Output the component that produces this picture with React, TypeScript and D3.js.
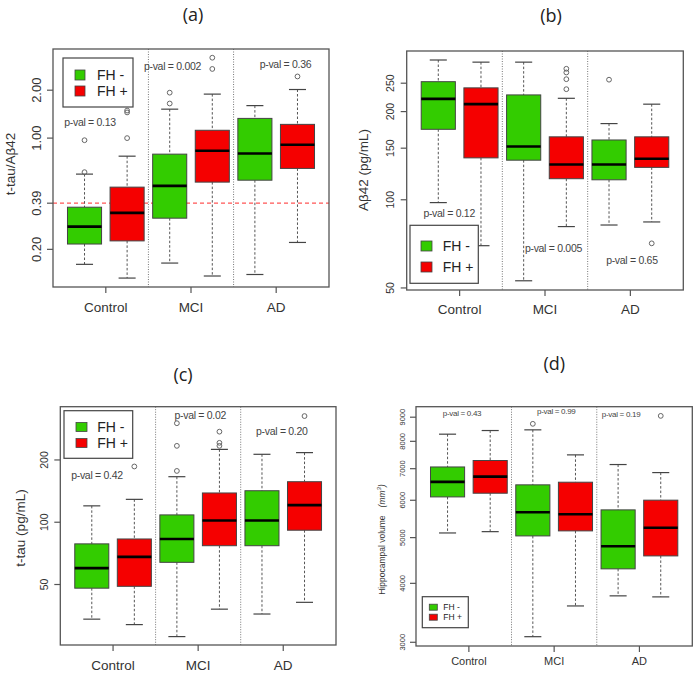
import React from "react";
import * as d3 from "d3";

const groups = ["Control", "MCI", "AD"];
const seriesNames = ["FH -", "FH +"];
const seriesColors = ["#33cc00", "#f50000"];

// [lower whisker, Q1, median, Q3, upper whisker]
// order: Control FH-, Control FH+, MCI FH-, MCI FH+, AD FH-, AD FH+
const ratioStats = [
  [0.161, 0.216, 0.278, 0.368, 0.594],
  [0.132, 0.226, 0.339, 0.492, 0.77],
  [0.164, 0.314, 0.501, 0.793, 1.52],
  [0.136, 0.529, 0.832, 1.12, 1.89],
  [0.139, 0.544, 0.801, 1.33, 1.6],
  [0.221, 0.645, 0.908, 1.22, 2.02],
];
const ratioOutliers = [[0.611, 0.97], [1.0, 1.45, 1.49], [1.65, 1.93], [2.72, 3.2], [], [2.44]];
const ratioPvals = ["p-val = 0.13", "p-val = 0.002", "p-val = 0.36"];
const ratioTicks = [0.2, 0.39, 1, 2];
const ratioTickLabels = ["0.20", "0.39", "1.00", "2.00"];
const ratioCutoff = 0.39;

const abStats = [
  [97.8, 174, 221, 253, 300],
  [69.7, 139, 212, 241, 295],
  [52.9, 136.5, 152, 228, 295],
  [81, 118, 132, 164, 222],
  [82, 117, 132, 160, 182],
  [84, 129, 138, 164, 212],
];
const abOutliers = [[], [], [], [238.5, 258, 272, 280], [257], [71]];
const abPvals = ["p-val = 0.12", "p-val = 0.005", "p-val = 0.65"];
const abTicks = [50, 100, 150, 200, 250];
const abTickLabels = ["50", "100", "150", "200", "250"];

const tauStats = [
  [34, 48, 60, 78.6, 120],
  [32, 49, 68, 83, 129],
  [28, 64, 83, 108.5, 166],
  [38, 77, 102, 138.5, 225],
  [36, 77, 102, 142, 213],
  [41, 91.5, 121, 157, 217],
];
const tauOutliers = [[], [186], [177, 234, 301], [234, 242, 274], [], [326]];
const tauPvals = ["p-val = 0.42", "p-val = 0.02", "p-val = 0.20"];
const tauTicks = [50, 100, 200];
const tauTickLabels = ["50", "100", "200"];

const hipStats = [
  [5115, 6099, 6564, 7059, 8284],
  [5148, 6210, 6734, 7285, 8433],
  [3083, 5042, 5660, 6469, 8461],
  [3582, 5167, 5604, 6553, 7488],
  [3763, 4293, 4795, 5725, 7143],
  [3744, 4573, 5245, 6003, 6868],
];
const hipOutliers = [[], [], [8713], [], [], [9058]];
const hipPvals = ["p-val = 0.43", "p-val = 0.99", "p-val = 0.19"];
const hipTicks = [3000, 4000, 5000, 6000, 7000, 8000, 9000];
const hipTickLabels = ["3000", "4000", "5000", "6000", "7000", "8000", "9000"];

const FONT = "'Liberation Sans', Arial, sans-serif";

const panels = [
  {
    label: "(a)", labelX: 193, labelY: 14,
    frame: { left: 53, right: 329, top: 49, bottom: 287 },
    domain: [0.116, 3.63],
    stats: ratioStats, outliers: ratioOutliers,
    ticks: ratioTicks, tickLabels: ratioTickLabels, tickLabelX: 36.5, tickFont: 13,
    pvals: ratioPvals, pvalPos: [[1.129, 1.26], [3.065, 2.84], [5.718, 2.92]], pvalFont: 10.5,
    refLine: ratioCutoff,
    title: "t-tau/Aβ42", titleX: 10, titleY: 164, titleFont: 13.5,
    xLabelY: 307, xLabelFont: 13.5,
    legend: { x: 63, y: 58, w: 70, h: 49, sq: 10, sqH: 10, sqX: 75, rows: [75, 91], textX: 97, font: 14 },
  },
  {
    label: "(b)", labelX: 551, labelY: 15,
    frame: { left: 406.7, right: 683.3, top: 51, bottom: 290 },
    domain: [49.2, 322],
    stats: abStats, outliers: abOutliers,
    ticks: abTicks, tickLabels: abTickLabels, tickLabelX: 389.7, tickFont: 10.5,
    pvals: abPvals, pvalPos: [[1.255, 90.2], [3.698, 68.5], [5.536, 62.3]], pvalFont: 10.5,
    refLine: null,
    title: "Aβ42 (pg/mL)", titleX: 363, titleY: 170, titleFont: 13.5,
    xLabelY: 309, xLabelFont: 13.5,
    legend: { x: 410, y: 225.3, w: 68.3, h: 58, sq: 11, sqH: 10, sqX: 421, rows: [246, 267], textX: 442.7, font: 14 },
  },
  {
    label: "(c)", labelX: 183, labelY: 374,
    frame: { left: 60.3, right: 336, top: 406.7, bottom: 645 },
    domain: [25.5, 361.8],
    stats: tauStats, outliers: tauOutliers,
    ticks: tauTicks, tickLabels: tauTickLabels, tickLabelX: 44, tickFont: 10.5,
    pvals: tauPvals, pvalPos: [[1.122, 169.2], [3.55, 329.9], [5.466, 276]], pvalFont: 10.5,
    refLine: null,
    title: "t-tau (pg/mL)", titleX: 20.7, titleY: 528, titleFont: 13.5,
    xLabelY: 665, xLabelFont: 13.5,
    legend: { x: 64, y: 410.7, w: 68.7, h: 47.6, sq: 11, sqH: 9, sqX: 76, rows: [427, 443], textX: 97.3, font: 14 },
  },
  {
    label: "(d)", labelX: 554.3, labelY: 362.5,
    frame: { left: 416, right: 692.3, top: 406.7, bottom: 646 },
    domain: [2946, 9473],
    stats: hipStats, outliers: hipOutliers,
    ticks: hipTicks, tickLabels: hipTickLabels, tickLabelX: 402, tickFont: 7.5,
    pvals: hipPvals, pvalPos: [[1.339, 9147], [3.55, 9252], [5.07, 9101]], pvalFont: 8,
    refLine: null,
    title: "Hippocampal volume", titleX: 381.7, titleY: 539.5, titleFont: 8.5,
    xLabelY: 661, xLabelFont: 11,
    legend: { x: 422.3, y: 596.7, w: 46, h: 31, sq: 8, sqH: 6, sqX: 429.3, rows: [607.2, 617.2], textX: 443.3, font: 8.5 },
  },
];

function Panel({ cfg }: { cfg: any }) {
  const { frame, domain, stats, outliers } = cfg;
  const x = d3.scaleLinear().domain([0.26, 6.74]).range([frame.left, frame.right]);
  const y = d3.scaleLog().domain(domain).range([frame.bottom, frame.top]);
  const half = x(0.4) - x(0);
  const cap = x(0.2) - x(0);
  const lg = cfg.legend;
  return (
    <g>
      <text x={cfg.labelX} y={cfg.labelY} textAnchor="middle" dominantBaseline="central"
        fontFamily="'Open Sans', sans-serif" fontSize={18} fill="#222">{cfg.label}</text>
      {cfg.refLine != null && (
        <line x1={frame.left} x2={frame.right} y1={y(cfg.refLine)} y2={y(cfg.refLine)}
          stroke="#ff5555" strokeWidth={1.2} strokeDasharray="4,3" />
      )}
      {[2.5, 4.5].map((d) => (
        <line key={d} x1={x(d)} x2={x(d)} y1={frame.top} y2={frame.bottom}
          stroke="#777" strokeWidth={1} strokeDasharray="1,1.5" />
      ))}
      {stats.map((s: number[], i: number) => {
        const cx = x(i + 1);
        const [lo, q1, md, q3, hi] = s;
        return (
          <g key={i}>
            <line x1={cx} x2={cx} y1={y(hi)} y2={y(q3)} stroke="#555" strokeWidth={1} strokeDasharray="2.5,2" />
            <line x1={cx} x2={cx} y1={y(q1)} y2={y(lo)} stroke="#555" strokeWidth={1} strokeDasharray="2.5,2" />
            <line x1={cx - cap} x2={cx + cap} y1={y(hi)} y2={y(hi)} stroke="#444" strokeWidth={1.2} />
            <line x1={cx - cap} x2={cx + cap} y1={y(lo)} y2={y(lo)} stroke="#444" strokeWidth={1.2} />
            <rect x={cx - half} y={y(q3)} width={2 * half} height={y(q1) - y(q3)}
              fill={seriesColors[i % 2]} stroke="#444" strokeWidth={1} />
            <line x1={cx - half} x2={cx + half} y1={y(md)} y2={y(md)} stroke="#000" strokeWidth={2.6} />
            {outliers[i].map((o: number, j: number) => (
              <circle key={j} cx={cx} cy={y(o)} r={2.4} fill="none" stroke="#666" strokeWidth={1} />
            ))}
          </g>
        );
      })}
      <rect x={frame.left} y={frame.top} width={frame.right - frame.left} height={frame.bottom - frame.top}
        fill="none" stroke="#555" strokeWidth={1.3} />
      {cfg.ticks.map((t: number, i: number) => (
        <g key={t}>
          <line x1={frame.left - 6} x2={frame.left} y1={y(t)} y2={y(t)} stroke="#555" strokeWidth={1.2} />
          <text transform={`translate(${cfg.tickLabelX},${y(t)}) rotate(-90)`} textAnchor="middle"
            dominantBaseline="central" fontFamily={FONT} fontSize={cfg.tickFont} fill="#333">{cfg.tickLabels[i]}</text>
        </g>
      ))}
      {groups.map((g, i) => (
        <g key={g}>
          <line x1={x(2 * i + 1.5)} x2={x(2 * i + 1.5)} y1={frame.bottom} y2={frame.bottom + 6} stroke="#555" strokeWidth={1.2} />
          <text x={x(2 * i + 1.5)} y={cfg.xLabelY} textAnchor="middle" dominantBaseline="central"
            fontFamily={FONT} fontSize={cfg.xLabelFont} fill="#333">{g}</text>
        </g>
      ))}
      {cfg.pvals.map((p: string, i: number) => (
        <text key={p} x={x(cfg.pvalPos[i][0])} y={y(cfg.pvalPos[i][1])} textAnchor="middle" dominantBaseline="central"
          fontFamily={FONT} fontSize={cfg.pvalFont} fill="#444" letterSpacing={-0.3}>{p}</text>
      ))}
      <text transform={`translate(${cfg.titleX},${cfg.titleY}) rotate(-90)`} textAnchor="middle"
        dominantBaseline="central" fontFamily={FONT} fontSize={cfg.titleFont} fill="#333">
        {cfg.title}
        {cfg.label === "(d)" && (
          <tspan dx={8} fontStyle="italic">{"(mm"}<tspan dy={-3} fontSize={6}>3</tspan><tspan dy={3}>)</tspan></tspan>
        )}
      </text>
      <rect x={lg.x} y={lg.y} width={lg.w} height={lg.h} fill="#fff" stroke="#444" strokeWidth={1.2} />
      {seriesNames.map((n, i) => (
        <g key={n}>
          <rect x={lg.sqX} y={lg.rows[i] - lg.sqH / 2} width={lg.sq} height={lg.sqH}
            fill={seriesColors[i]} stroke="#444" strokeWidth={0.8} />
          <text x={lg.textX} y={lg.rows[i]} dominantBaseline="central" fontFamily={FONT}
            fontSize={lg.font} fill="#222">{n}</text>
        </g>
      ))}
    </g>
  );
}

export default function App() {
  return (
    <svg width={697} height={674} style={{ position: "absolute", left: 0, top: 0, background: "#fff" }}>
      <rect width={697} height={674} fill="#fff" />
      {panels.map((p) => (
        <Panel key={p.label} cfg={p} />
      ))}
    </svg>
  );
}
